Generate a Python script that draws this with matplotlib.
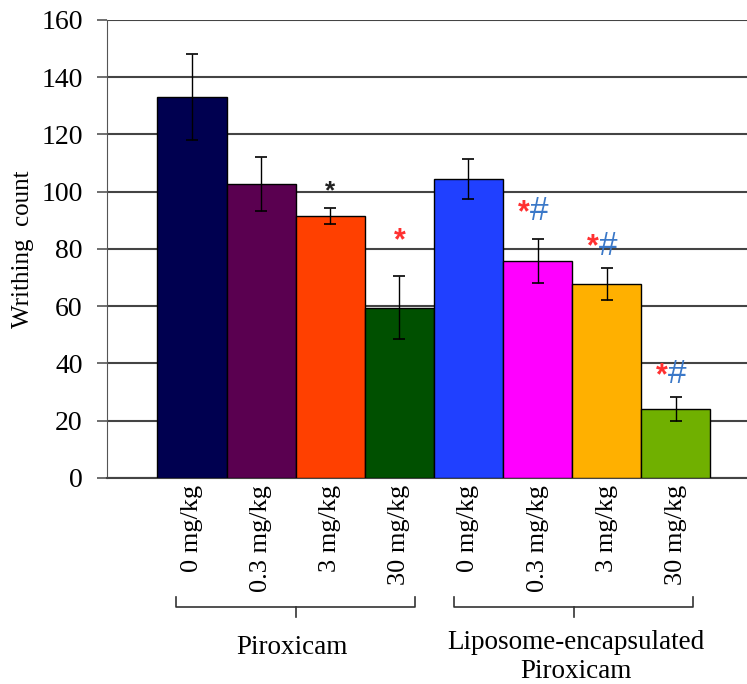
import matplotlib
matplotlib.use("Agg")
import matplotlib.pyplot as plt
import numpy as np

plt.rcParams['font.family'] = ['Liberation Serif', 'DejaVu Serif']

# Data
dose_labels = ["0 mg/kg", "0.3 mg/kg", "3 mg/kg", "30 mg/kg",
               "0 mg/kg", "0.3 mg/kg", "3 mg/kg", "30 mg/kg"]
writhing_mean = [133.0, 102.7, 91.6, 59.4, 104.5, 75.8, 67.8, 24.1]
writhing_err = [15.0, 9.4, 2.8, 11.0, 7.1, 7.7, 5.5, 4.1]
bar_colors = ["#000050", "#5a0050", "#ff4000", "#005000",
              "#2040ff", "#ff00ff", "#ffb000", "#70b000"]
groups = ["Piroxicam", "Liposome-encapsulated\nPiroxicam"]
# significance marks per bar: star shown, star colour, hash shown
sig_star = [False, False, True, True, False, True, True, True]
sig_star_color = ["k", "k", "#222222", "#ff3030", "k", "#ff3030", "#ff3030", "#ff3030"]
sig_hash = [False, False, False, False, False, True, True, True]
sig_level = [0, 0, 100.3, 82.8, 0, 92.5, 80.5, 35.5]

fig = plt.figure(figsize=(7.47, 6.84), dpi=100)
ax = fig.add_axes([0.1432, 0.3012, 0.8568, 0.6696])

n = len(writhing_mean)
x = np.arange(n)
ax.bar(x, writhing_mean, width=1.0, color=bar_colors, edgecolor="black",
       linewidth=1.0, zorder=3)
ax.errorbar(x, writhing_mean, yerr=writhing_err, fmt="none", ecolor="black",
            elinewidth=1.0, capsize=4.5, capthick=1.2, zorder=4)

ax.set_xlim(-1.23, 8.03)
ax.set_ylim(0, 160)
ax.set_yticks(np.arange(0, 161, 20))
ax.yaxis.grid(True, color="#444444", linewidth=1.5, zorder=0)
ax.set_axisbelow(True)
for side in ["top", "right"]:
    ax.spines[side].set_visible(False)
ax.spines["left"].set_color("#555555")
ax.spines["bottom"].set_color("#444444")
ax.spines["bottom"].set_linewidth(1.5)
ax.tick_params(axis="y", length=7.5, width=1.2, color="#555555",
               labelsize=20, pad=10)
ax.set_xticks(x)
ax.set_xticklabels(dose_labels, rotation=90, fontsize=19, va="top")
ax.tick_params(axis="x", length=0, pad=5)
ax.set_ylabel("Writhing  count", fontsize=18, labelpad=5)

# significance annotations
for i in range(n):
    if not sig_star[i]:
        continue
    if sig_hash[i]:
        ax.text(i - 0.12, sig_level[i], "*", color=sig_star_color[i], fontsize=22,
                fontweight="bold", ha="right", va="center",
                fontfamily="Liberation Sans")
        ax.text(i - 0.11, sig_level[i] + 0.5, "#", color="#3a78c8", fontsize=24,
                ha="left", va="center", fontfamily="Liberation Sans")
    else:
        dark = sig_star_color[i] == "#222222"
        ax.text(i, sig_level[i], "*", color=sig_star_color[i],
                fontsize=19 if dark else 22, fontweight="bold",
                ha="center", va="center", fontfamily="Liberation Sans")

# group brackets below the tick labels
def bracket(x0, x1, y0, y1, ymid):
    xm = (x0 + x1) / 2
    fig.add_artist(plt.Line2D([x0, x0, x1, x1], [y0, y1, y1, y0],
                              transform=fig.transFigure, color="#333333", lw=1.2))
    fig.add_artist(plt.Line2D([xm, xm], [y1, ymid],
                              transform=fig.transFigure, color="#333333", lw=1.2))

W, H = 747.0, 684.0
bracket(176 / W, 415 / W, 1 - 597 / H, 1 - 607 / H, 1 - 617 / H)
bracket(454 / W, 693 / W, 1 - 597 / H, 1 - 607 / H, 1 - 617 / H)
fig.text(292 / W, 1 - 648 / H, groups[0], fontsize=19.5, ha="center", va="center")
fig.text(576 / W, 1 - 657 / H, groups[1], fontsize=19.5, ha="center", va="center",
         linespacing=1.2)

fig.savefig("out.png", dpi=100)
